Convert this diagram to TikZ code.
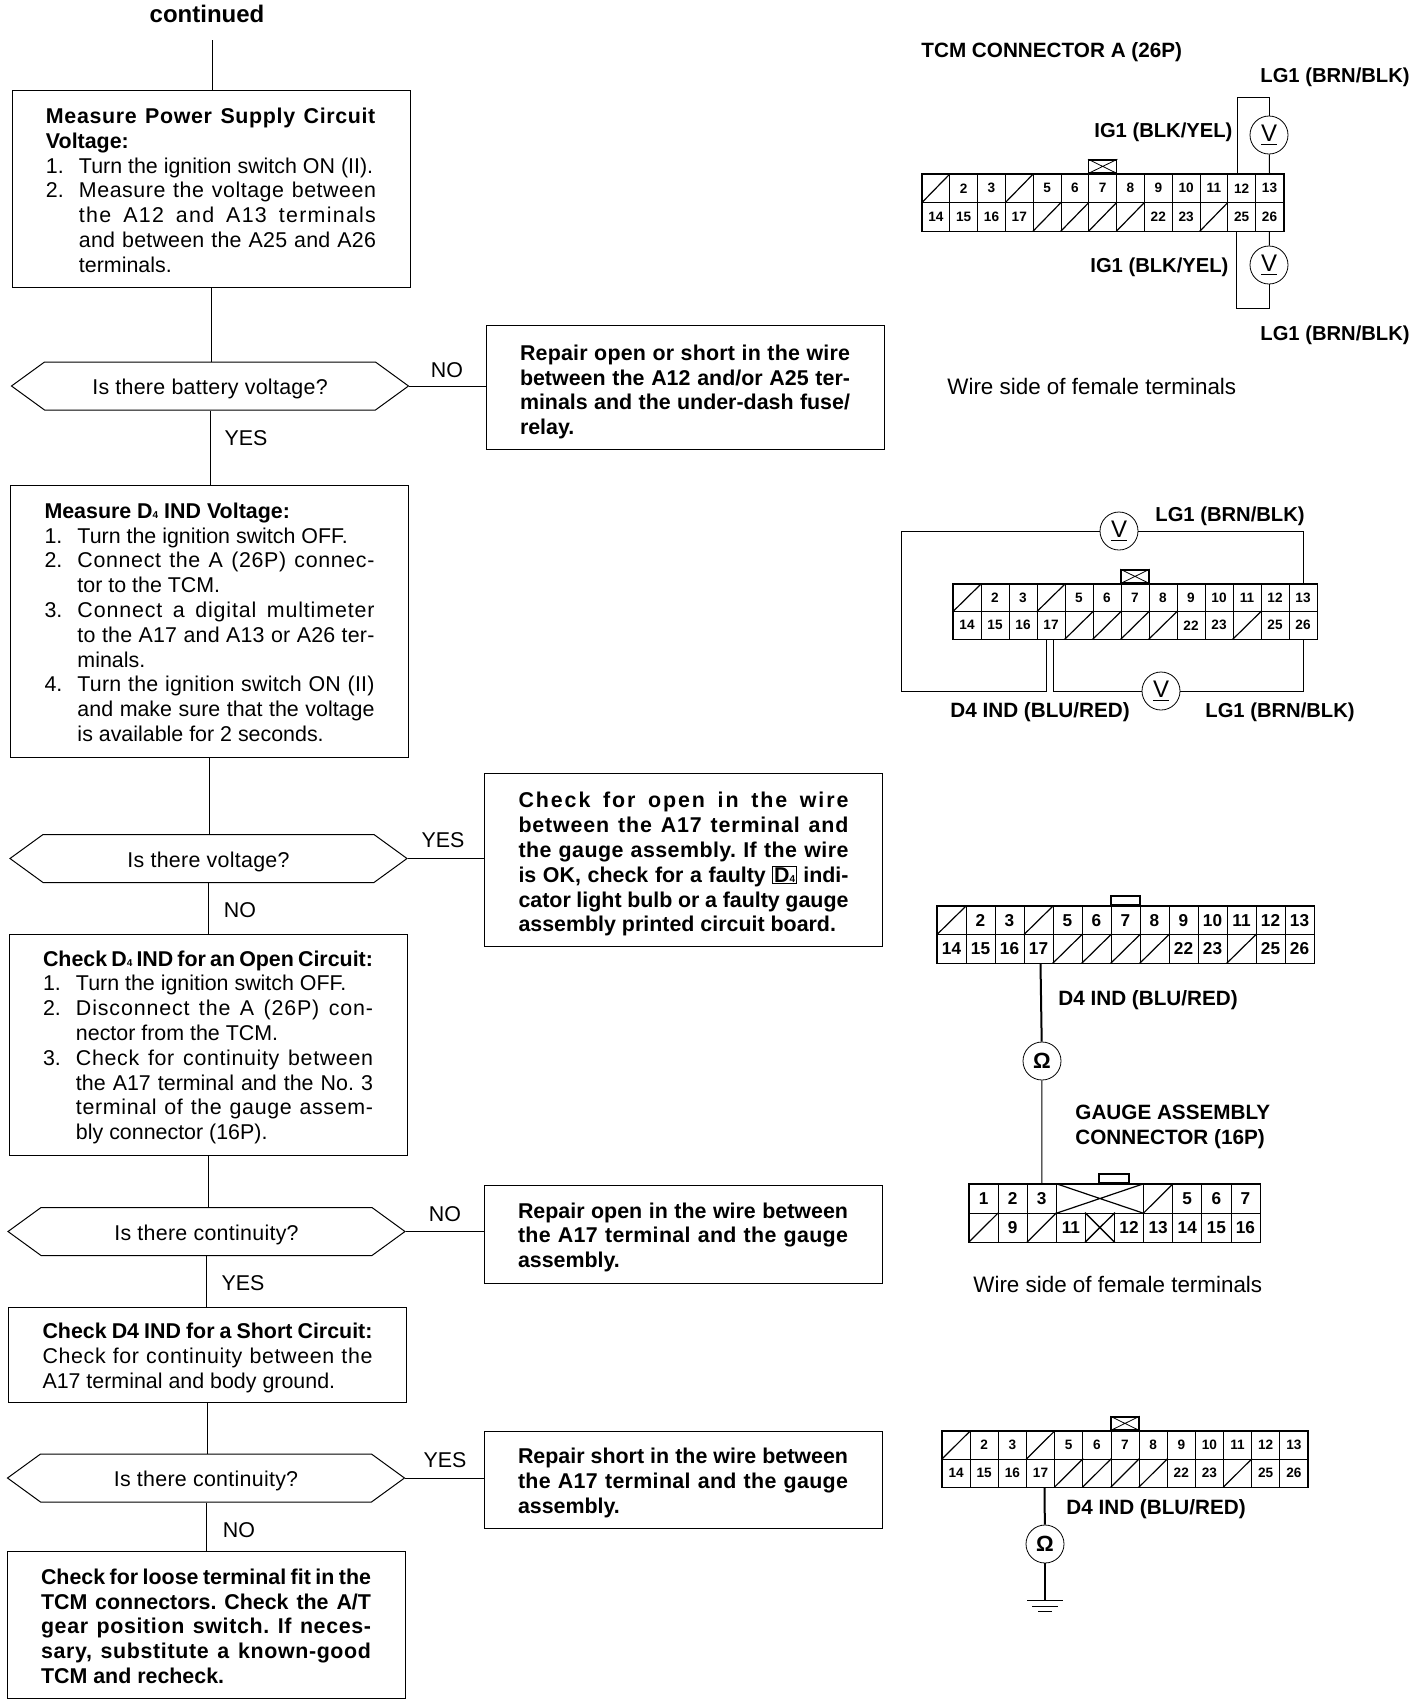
\documentclass[tikz,border=0pt]{standalone}
\usepackage{fontspec}
\setmainfont{Liberation Sans}
\usetikzlibrary{shapes.symbols}
\newcommand{\bodyfont}{\fontsize{10.7}{12.4}\selectfont\frenchspacing}
\newcommand{\labelfont}{\fontsize{10.1}{12.4}\selectfont\bfseries}
\newcommand{\namefont}{\fontsize{10.35}{12.4}\selectfont\bfseries}
\newcommand{\smallcell}{\fontsize{6.8}{8}\selectfont\bfseries}
\newcommand{\largecell}{\fontsize{8.6}{10}\selectfont\bfseries}
\tikzset{
    flowbox/.style={draw, rectangle, line width=0.5pt, text width=165pt, inner xsep=17pt, inner ysep=0pt, align=flush left, font=\bodyfont},
    repairbox/.style={flowbox, font=\bodyfont\bfseries},
    question/.style={draw, signal, signal to=east and west, signal pointer angle=72, line width=0.5pt, minimum width=198.5pt, minimum height=24pt, inner sep=0pt, text height=10.7pt, text depth=2pt, font=\bodyfont\addfontfeature{LetterSpace=1.3}},
    answer/.style={font=\bodyfont, inner sep=0pt},
    wirelabel/.style={font=\labelfont, inner sep=0pt, anchor=west, align=left, yshift=-1pt},
    namelabel/.style={wirelabel, font=\namefont},
    sidelabel/.style={font=\fontsize{11.2}{12}\selectfont, inner sep=0pt, anchor=west},
    meter/.style={draw, circle, fill=white, minimum size=19pt, inner sep=0pt, font=\fontsize{12}{13}\selectfont},
    ohmmeter/.style={meter, font=\fontsize{11}{12}\selectfont\bfseries},
    cell/.style={draw, rectangle, line width=0.4pt, inner sep=0pt},
    tabbox/.style={draw, rectangle, line width=0.7pt, inner sep=0pt},
    outerline/.style={line width=0.9pt},
    wire/.style={line width=0.5pt},
    heavywire/.style={line width=1pt}
}
% justified lines of the boxes, the option is the letter spacing
\newcommand{\jl}[2][0]{\makebox[165pt][s]{\addfontfeature{LetterSpace=#1}#2}}
\newcommand{\nn}[2]{\makebox[16.5pt][l]{#1}#2}
\newcommand{\nj}[3][0]{\makebox[16.5pt][l]{#2}\makebox[148.5pt][s]{\addfontfeature{LetterSpace=#1}#3}}
\newcommand{\toppad}[1]{\rule{0pt}{#1}}
\newcommand{\dfour}{D{\fontsize{5}{5}\selectfont 4}}
\newcommand{\dfourbox}{{\setlength{\fboxsep}{0.5pt}\setlength{\fboxrule}{0.3pt}\smash{\fbox{\dfour}}}}
% 26P connector: prefix, left, top, cell width, cell height, font
\newcommand{\tcmconn}[6]{%
    \foreach \n in {2,3,5,6,7,8,9,10,11,12,13,14,15,16,17,22,23,25,26} {
        \pgfmathtruncatemacro{\cx}{mod(\n-1,13)}
        \pgfmathtruncatemacro{\cy}{int((\n-1)/13)}
        \node[cell, minimum width=#4*0.5pt, minimum height=#5*0.5pt, font=#6] (#1\n) at ({#2+(\cx+0.5)*#4},{#3+(\cy+0.5)*#5}) {\n};
    }
    \foreach \n in {1,4,18,19,20,21,24} {
        \pgfmathtruncatemacro{\cx}{mod(\n-1,13)}
        \pgfmathtruncatemacro{\cy}{int((\n-1)/13)}
        \node[cell, minimum width=#4*0.5pt, minimum height=#5*0.5pt] (#1\n) at ({#2+(\cx+0.5)*#4},{#3+(\cy+0.5)*#5}) {};
        \draw[line width=0.6pt] (#1\n.south west) -- (#1\n.north east);
    }
    \draw[outerline] (#11.north west) rectangle (#126.south east);
}
\newcommand{\conntab}[3]{\node[tabbox, minimum width=#2*0.5pt, minimum height=#3*0.5pt, anchor=south] (#1tab) at (#1.north) {};}
\newcommand{\conntabx}[3]{\conntab{#1}{#2}{#3}\draw (#1tab.north west) -- (#1tab.south east) (#1tab.south west) -- (#1tab.north east);}
\begin{document}
\begin{tikzpicture}[x=0.5pt, y=-0.5pt]
    \useasboundingbox (0,0) rectangle (1424,1704);

    % Flow chart, left column
    \node[font=\fontsize{12}{14}\selectfont\bfseries, inner sep=0pt] (cont) at (207,14) {continued};
    \coordinate (topend) at (212,40);

    \node[flowbox, minimum height=98.5pt] (b1) at (211,188.5) {\toppad{9.4pt}\jl[3]{\textbf{Measure Power Supply Circuit}}\\
        \textbf{Voltage:}\\
        \nn{1.}{Turn the ignition switch ON (II).}\\
        \nj[2.5]{2.}{Measure the voltage between}\\
        \nj[6]{}{the A12 and A13 terminals}\\
        \nj[1]{}{and between the A25 and A26}\\
        \nn{}{terminals.}};
    \node[question] (d1) at (210,386) {Is there battery voltage?};
    \node[flowbox, minimum height=136pt] (b2) at (209.5,621) {\toppad{8.9pt}\textbf{Measure \dfour{} IND Voltage:}\\
        \nn{1.}{Turn the ignition switch OFF.}\\
        \nj[3]{2.}{Connect the A (26P) connec-}\\
        \nn{}{tor to the TCM.}\\
        \nj[4]{3.}{Connect a digital multimeter}\\
        \nj[1]{}{to the A17 and A13 or A26 ter-}\\
        \nn{}{minals.}\\
        \nj[1]{4.}{Turn the ignition switch ON (II)}\\
        \nj{}{and make sure that the voltage}\\
        \nn{}{is available for 2 seconds.}};
    \node[question] (d2) at (208.5,858.5) {Is there voltage?};
    \node[flowbox, minimum height=110.5pt] (b3) at (208,1044.5) {\toppad{10.6pt}\jl{\textbf{Check \dfour{} IND for an Open Circuit:}}\\
        \nn{1.}{Turn the ignition switch OFF.}\\
        \nj[4]{2.}{Disconnect the A (26P) con-}\\
        \nn{}{nector from the TCM.}\\
        \nj[3]{3.}{Check for continuity between}\\
        \nj{}{the A17 terminal and the No. 3}\\
        \nj[3]{}{terminal of the gauge assem-}\\
        \nn{}{bly connector (16P).}};
    \node[question] (d3) at (206.5,1231.5) {Is there continuity?};
    \node[flowbox, minimum height=47.5pt] (b4) at (207.5,1354.5) {\toppad{11.1pt}\jl{\textbf{Check D4 IND for a Short Circuit:}}\\
        \jl[3]{Check for continuity between the}\\
        A17 terminal and body ground.};
    \node[question] (d4) at (206,1478) {Is there continuity?};
    \node[repairbox, minimum height=73.5pt] (b5) at (206,1624.5) {\toppad{9.4pt}\jl{Check for loose terminal fit in the}\\
        \jl{TCM connectors. Check the A/T}\\
        \jl[3]{gear position switch. If neces-}\\
        \jl[3]{sary, substitute a known-good}\\
        TCM and recheck.};

    % Repair boxes
    \node[repairbox, minimum height=62pt] (r1) at (685,387) {\toppad{12.7pt}\jl[1]{Repair open or short in the wire}\\
        \jl{between the A12 and/or A25 ter-}\\
        \jl{minals and the under-dash fuse/}\\
        relay.};
    \node[repairbox, minimum height=86.5pt] (r2) at (683.5,859.5) {\toppad{12.7pt}\jl[9]{Check for open in the wire}\\
        \jl[4]{between the A17 terminal and}\\
        \jl[2]{the gauge assembly. If the wire}\\
        \jl{is OK, check for a faulty \dfourbox{} indi-}\\
        \jl{cator light bulb or a faulty gauge}\\
        assembly printed circuit board.};
    \node[repairbox, minimum height=49pt] (r3) at (683,1234) {\toppad{11.1pt}\jl{Repair open in the wire between}\\
        \jl[1.5]{the A17 terminal and the gauge}\\
        assembly.};
    \node[repairbox, minimum height=48.5pt] (r4) at (683,1479.5) {\toppad{11.1pt}\jl{Repair short in the wire between}\\
        \jl[1.5]{the A17 terminal and the gauge}\\
        assembly.};

    % Flow connectors
    \draw[wire] (topend) -- (topend |- b1.north);
    \foreach \a/\b in {b1/d1,d1/b2,b2/d2,d2/b3,b3/d3,d3/b4,b4/d4,d4/b5} {
        \draw[wire] (\a.south) -- (\a.south |- \b.north);
    }
    \foreach \a/\b in {d1/r1,d2/r2,d3/r3,d4/r4} {
        \draw[wire] (\a.east) -- (\a.east -| \b.west);
    }

    \node[answer] (no1) at (447,370) {NO};
    \node[answer] (yes1) at (246,438) {YES};
    \node[answer] (yes2) at (443,840) {YES};
    \node[answer] (no2) at (240,910) {NO};
    \node[answer] (no3) at (445,1214) {NO};
    \node[answer] (yes3) at (243,1283) {YES};
    \node[answer] (yes4) at (445,1460) {YES};
    \node[answer] (no4) at (239,1530) {NO};

    % Voltage check at A12/A13 and A25/A26
    \node[namelabel] (tcmname) at (921,50) {TCM CONNECTOR A (26P)};
    \tcmconn{a}{922}{174}{27.8}{28.5}{\smallcell}
    \conntabx{a7}{28}{13}
    \node[meter] (v1) at (1269,135) {\underline{V}};
    \node[meter] (v2) at (1269,265) {\underline{V}};
    \coordinate (w1) at (1269,97);
    \coordinate (w2) at (1269,308);
    \draw[wire] ([xshift=-2pt]a12.north) |- (w1) -- (v1);
    \draw[wire] (v1) -- (a13.north);
    \draw[wire] ([xshift=-2.5pt]a25.south) |- (w2) -- (v2);
    \draw[wire] (v2) -- (a26.south);
    \node[wirelabel] (lg1) at (1260,75) {LG1 (BRN/BLK)};
    \node[wirelabel] (ig1) at (1094,130) {IG1 (BLK/YEL)};
    \node[wirelabel] (ig2) at (1090,265) {IG1 (BLK/YEL)};
    \node[wirelabel] (lg2) at (1260,333) {LG1 (BRN/BLK)};
    \node[sidelabel] (side1) at (947,386) {Wire side of female terminals};

    % Voltage check at A17
    \tcmconn{b}{953}{584}{28}{27.5}{\smallcell}
    \conntabx{b7}{28}{13}
    \node[meter] (v3) at (1119,531) {\underline{V}};
    \node[meter] (v4) at (1161,691) {\underline{V}};
    \coordinate (w3) at (901,691);
    \draw[wire] (v3.west) -| (w3) -| ([xshift=-2.5pt]b17.south);
    \draw[wire] (v3.east) -| (b13.north);
    \draw[wire] ([xshift=1pt]b17.south) |- (v4.west);
    \draw[wire] (v4.east) -| (b26.south);
    \node[wirelabel] (lg3) at (1155,514) {LG1 (BRN/BLK)};
    \node[namelabel] (ind1) at (950,710) {D4 IND (BLU/RED)};
    \node[wirelabel] (lg4) at (1205,710) {LG1 (BRN/BLK)};

    % Continuity to the gauge assembly
    \tcmconn{c}{937}{906}{29}{28.5}{\largecell}
    \conntab{c7}{29}{9}
    \node[ohmmeter] (o1) at (1042,1061) {Ω};

    \foreach \c/\lab in {1/1,2/2,3/3,8/5,9/6,10/7} {
        \node[cell, minimum width=14.55pt, minimum height=14.5pt, font=\largecell] (g\lab) at ({969+(\c-0.5)*29.1},1198.5) {\lab};
    }
    \foreach \c/\lab in {2/9,4/11,6/12,7/13,8/14,9/15,10/16} {
        \node[cell, minimum width=14.55pt, minimum height=14.5pt, font=\largecell] (g\lab) at ({969+(\c-0.5)*29.1},1227.5) {\lab};
    }
    \foreach \c/\y in {7/1198.5,1/1227.5,3/1227.5} {
        \node[cell, minimum width=14.55pt, minimum height=14.5pt] (gs\c) at ({969+(\c-0.5)*29.1},\y) {};
        \draw[line width=0.6pt] (gs\c.south west) -- (gs\c.north east);
    }
    \node[cell, minimum width=14.55pt, minimum height=14.5pt] (gx) at ({969+4.5*29.1},1227.5) {};
    \draw[line width=0.7pt] (gx.south west) -- (gx.north east) (gx.north west) -- (gx.south east);
    \node[cell, minimum width=43.65pt, minimum height=14.5pt] (gbig) at ({969+4.5*29.1},1198.5) {};
    \draw[line width=0.6pt] (gbig.south west) -- (gbig.north east) (gbig.north west) -- (gbig.south east);
    \draw[outerline] (g1.north west) rectangle (g16.south east);
    \node[tabbox, minimum width=15pt, minimum height=4.5pt, anchor=south] (gtab) at ([xshift=7pt]gbig.north) {};
    \draw[heavywire] ([xshift=1pt]c17.south) -- (o1);
    \draw[wire] (o1) -- (g3.north);
    \node[namelabel] (ind2) at (1058,998) {D4 IND (BLU/RED)};
    \node[namelabel] (gname) at (1075,1125) {GAUGE ASSEMBLY\\CONNECTOR (16P)};
    \node[sidelabel] (side2) at (973,1284) {Wire side of female terminals};

    % Continuity to ground
    \tcmconn{d}{942}{1431}{28.15}{28}{\smallcell}
    \conntabx{d7}{28}{13}
    \node[ohmmeter] (o2) at (1045,1544) {Ω};
    \coordinate (gnd) at (1045,1600);
    \draw[heavywire] ([xshift=2pt]d17.south) -- (o2);
    \draw[heavywire] (o2) -- (gnd);
    \draw (gnd) ++(-18,0) -- ++(36,0);
    \draw (gnd) ++(-13,6) -- ++(26,0);
    \draw (gnd) ++(-7,11) -- ++(14,0);
    \node[namelabel] (ind3) at (1066,1507) {D4 IND (BLU/RED)};
\end{tikzpicture}
\end{document}
